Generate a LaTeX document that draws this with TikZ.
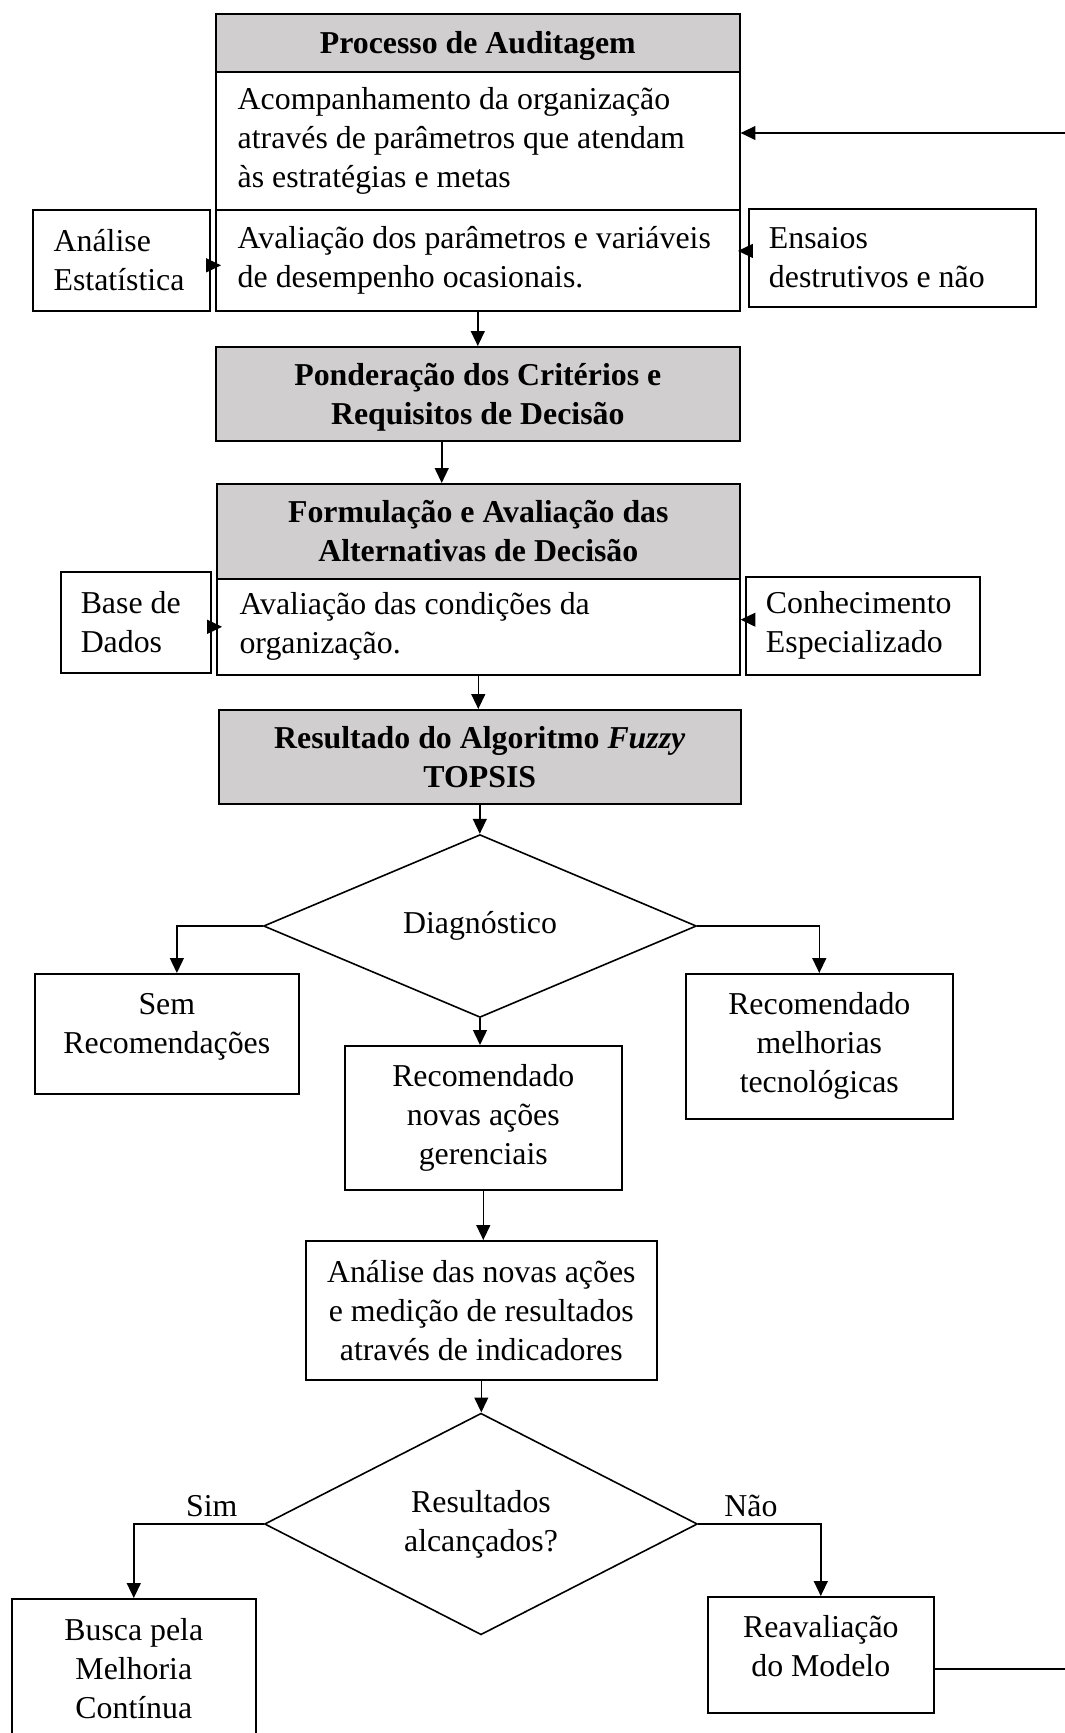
\documentclass[tikz,border=0pt]{standalone}
\usepackage{fontspec}
\setmainfont{Liberation Serif}
\usetikzlibrary{shapes.geometric,arrows.meta}
\definecolor{headgray}{HTML}{D0CECE}
\begin{document}
\begin{tikzpicture}[x=0.377pt,y=-0.377pt,
  every node/.style={font=\fontsize{12}{14.7}\selectfont, inner sep=0pt},
  sz/.style 2 args={minimum width=#1*0.377pt, minimum height=#2*0.377pt, anchor=north west},
  box/.style={draw, line width=0.6pt},
  head/.style={box, fill=headgray, font=\fontsize{12}{14.7}\selectfont\bfseries, align=center, text depth=0pt},
  plain/.style={box, fill=white, align=center},
  lbox/.style={box, fill=white, align=flush left, text width=#1},
  decision/.style={draw, line width=0.6pt, diamond, align=center, inner sep=0pt},
  arr/.style={line width=0.6pt, -{Triangle[length=5.6pt,width=5.2pt]}},
  link/.style={line width=0.6pt}]
\useasboundingbox (0,0) rectangle (1065,1733);
\clip (0,0) rectangle (1065,1733);

% audit block
\node[head, sz={524}{58}] (aud) at (215,13) {Processo de Auditagem};
\node[lbox=181pt, sz={524}{138}] (acomp) at (215,71) {Acompanhamento da organização\\através de parâmetros que atendam\\às estratégias e metas};
\node[lbox=181pt, sz={524}{101}] (aval1) at (215,209) {\mbox{Avaliação dos parâmetros e variáveis}\\de desempenho ocasionais.};
\node[lbox=51pt, sz={177}{101}] (estat) at (32,209) {Análise\\Estatística};
\node[lbox=93pt, sz={287}{98}] (ensaios) at (748,208) {Ensaios\\destrutivos e não};

% weighting and alternatives
\node[head, sz={524}{94}] (pond) at (215,346) {Ponderação dos Critérios e\\Requisitos de Decisão};
\node[head, sz={523}{95}] (form) at (216,483) {Formulação e Avaliação das\\Alternativas de Decisão};
\node[lbox=180pt, sz={523}{96}] (aval2) at (216,578) {Avaliação das condições da\\organização.};
\node[lbox=41.5pt, sz={150}{101}] (base) at (60,571) {Base de\\Dados};
\node[lbox=73pt, sz={234}{98}] (conh) at (745,576) {Conhecimento\\Especializado};
\node[head, sz={522}{94}] (fuzzy) at (218,709) {Resultado do Algoritmo \textit{Fuzzy}\\TOPSIS};

% diagnosis
\node[decision, minimum width=163.2pt, minimum height=55pt] (diag) at (480,926) {Diagnóstico};
\node[plain, sz={264}{120}, text depth=8pt] (sem) at (34,973) {Sem\\Recomendações};
\node[plain, sz={277}{144}] (novas) at (344,1045) {Recomendado\\novas ações\\gerenciais};
\node[plain, sz={267}{145}] (tec) at (685,973) {Recomendado\\melhorias\\tecnológicas};
\node[plain, sz={351}{139}] (anal) at (305,1240) {Análise das novas ações\\e medição de resultados\\através de indicadores};

% results check
\node[decision, minimum width=163.2pt, minimum height=81.4pt] (res) at (481,1524) {Resultados\\alcançados?};
\node[plain, sz={244}{147}, text depth=3pt] (busca) at (11,1598) {Busca pela\\Melhoria\\Contínua};
\node[plain, sz={226}{116}, text depth=7pt] (reav) at (707,1596) {Reavaliação\\do Modelo};

% feedback ends
\coordinate (fbin) at (1065,133);
\coordinate (fbout) at (1065,1669);

% connectors
\draw[arr] (fbin) -- (fbin -| acomp.east);
\draw[arr, shorten >=-2.3pt] ([yshift=-1.9pt]estat.east) coordinate (e1) -- (e1 -| aval1.west);
\draw[arr, shorten >=-1pt] ([yshift=2.6pt]ensaios.west) coordinate (e2) -- (e2 -| aval1.east);
\draw[arr] (aval1.south) -- (aval1.south |- pond.north);
\draw[arr] ([xshift=-13.6pt]pond.south) coordinate (p1) -- (p1 |- form.north);
\draw[arr, shorten >=-2.3pt] ([yshift=-1.7pt]base.east) coordinate (b1) -- (b1 -| aval2.west);
\draw[arr] ([yshift=2.3pt]conh.west) coordinate (c1) -- (c1 -| aval2.east);
\draw[arr] (aval2.south) -- (aval2.south |- fuzzy.north);
\draw[arr] (fuzzy.south) -- (fuzzy.south |- diag.north);
\draw[arr] (diag.west) -| ([xshift=3.8pt]sem.north);
\draw[arr] (diag.east) -| (tec.north);
\draw[arr] (diag.south) -- (diag.south |- novas.north);
\draw[arr] (novas.south) -- (novas.south |- anal.north);
\draw[arr] (anal.south) -- (anal.south |- res.north);
\draw[arr] (res.west) -| node[pos=0.2, above=2.3pt] (sim) {Sim} (busca.north);
\draw[arr] (res.east) -| node[pos=0.215, above=2.3pt] (nao) {Não} (reav.north);
\draw[link] (reav.east |- fbout) -- (fbout);
\end{tikzpicture}
\end{document}
